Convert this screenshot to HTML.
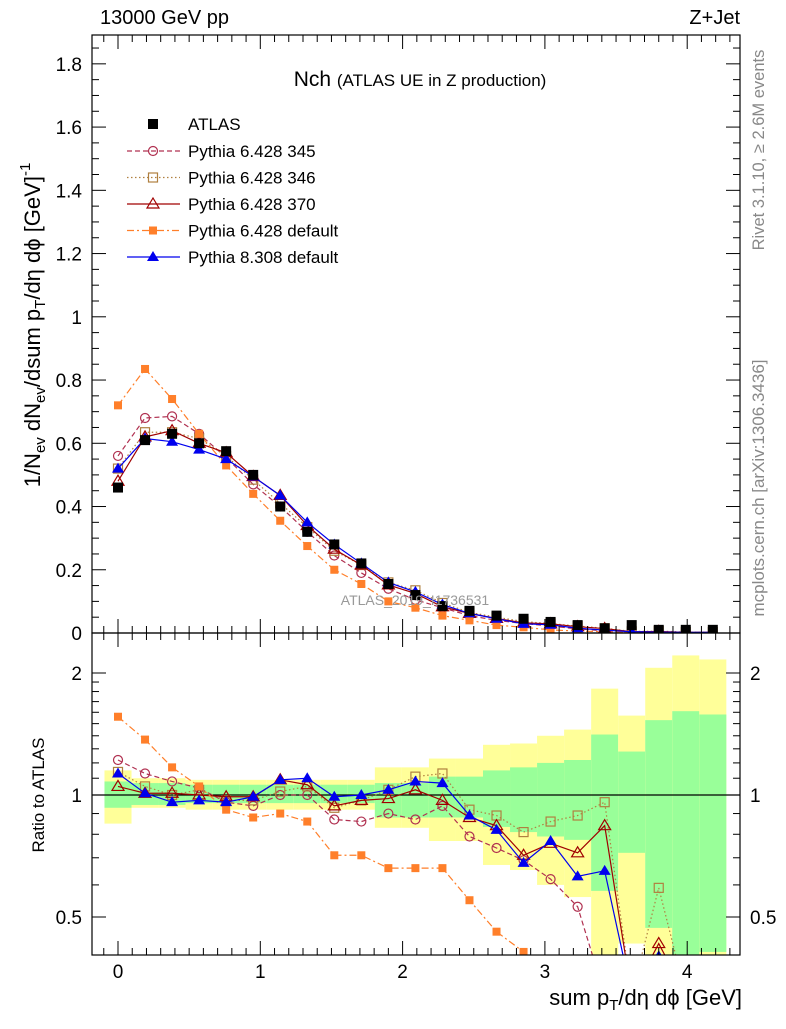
<!DOCTYPE html>
<html><head><meta charset="utf-8"><style>
body{margin:0;background:#fff;}
svg text{font-family:"Liberation Sans",sans-serif;}
</style></head><body>
<svg id="c" width="786" height="1024" xmlns="http://www.w3.org/2000/svg"></svg>
<script>
const xs=[0,0.19,0.38,0.57,0.76,0.95,1.14,1.33,1.52,1.71,1.9,2.09,2.28,2.47,2.66,2.85,3.04,3.23,3.42,3.61,3.8,3.99,4.18];
const atlas=[0.46,0.61,0.63,0.60,0.575,0.50,0.40,0.32,0.28,0.22,0.155,0.12,0.085,0.07,0.055,0.045,0.035,0.025,0.015,0.025,0.01,0.01,0.01];
const m345=[0.56,0.68,0.685,0.63,0.555,0.47,0.40,0.32,0.245,0.19,0.14,0.105,0.08,0.055,0.04,0.03,0.022,0.013,0.007,0.003,0.003,0.002,0.002];
const m346=[0.52,0.635,0.635,0.615,0.56,0.485,0.41,0.335,0.26,0.215,0.16,0.135,0.095,0.065,0.05,0.036,0.03,0.022,0.015,0.005,0.006,0.003,0.003];
const m370=[0.48,0.62,0.64,0.60,0.57,0.495,0.435,0.34,0.265,0.215,0.152,0.125,0.083,0.062,0.046,0.032,0.029,0.02,0.014,0.004,0.005,0.002,0.002];
const m6d=[0.72,0.835,0.74,0.63,0.53,0.44,0.355,0.275,0.2,0.155,0.1,0.08,0.055,0.04,0.025,0.018,0.01,0.006,0.004,0.002,0.001,0.001,0.001];
const m8=[0.52,0.615,0.605,0.58,0.55,0.495,0.435,0.35,0.28,0.22,0.16,0.13,0.09,0.062,0.045,0.029,0.026,0.015,0.009,0.004,0.003,0.002,0.002];
const r345=[1.22,1.13,1.08,1.04,0.96,0.94,1.0,1.0,0.87,0.86,0.9,0.87,0.94,0.79,0.74,0.69,0.62,0.53,0.3,0.2,0.2,0.2,0.2];
const r346=[1.14,1.05,1.0,1.03,0.97,0.97,1.02,1.05,0.93,0.97,1.03,1.11,1.13,0.92,0.89,0.81,0.86,0.89,0.96,0.2,0.59,0.2,0.2];
const r370=[1.05,1.01,1.01,1.0,0.99,0.99,1.09,1.06,0.94,0.97,0.98,1.03,0.97,0.88,0.84,0.71,0.76,0.72,0.84,0.2,0.43,0.2,0.2];
const r6d=[1.56,1.37,1.17,1.05,0.92,0.88,0.9,0.86,0.71,0.71,0.66,0.66,0.66,0.55,0.46,0.41,0.2,0.2,0.2,0.2,0.2,0.2,0.2];
const r8=[1.13,1.01,0.96,0.97,0.96,0.99,1.09,1.1,0.99,1.0,1.03,1.08,1.07,0.89,0.82,0.68,0.77,0.63,0.65,0.2,0.4,0.2,0.2];
const yUp=[1.15,1.1,1.1,1.09,1.09,1.09,1.09,1.09,1.09,1.09,1.17,1.17,1.23,1.23,1.33,1.34,1.40,1.45,1.83,1.57,2.06,2.21,2.16];
const gUp=[1.08,1.07,1.07,1.06,1.06,1.06,1.06,1.06,1.06,1.06,1.07,1.07,1.11,1.11,1.15,1.17,1.2,1.22,1.41,1.28,1.53,1.61,1.58];
const gDn=[0.93,0.945,0.945,0.955,0.955,0.955,0.955,0.955,0.955,0.955,0.88,0.88,0.88,0.88,0.834,0.81,0.79,0.775,0.58,0.72,0.47,0.3,0.41];
const yDn=[0.85,0.93,0.93,0.92,0.92,0.92,0.92,0.92,0.92,0.92,0.83,0.83,0.77,0.77,0.672,0.653,0.6,0.56,0.3,0.43,0.3,0.3,0.3];
const mainTicks=[0,0.2,0.4,0.6,0.8,1,1.2,1.4,1.6,1.8];
const xTicks=[0,1,2,3,4];
const ratioTicks=[0.5,1,2];

const NS="http://www.w3.org/2000/svg";
const svg=document.getElementById('c');
function el(t,a,p){const e=document.createElementNS(NS,t);for(const k in a)e.setAttribute(k,a[k]);(p||svg).appendChild(e);return e;}
const L=92,R=740,T=35,MB=633,RB=955;
const X=v=>118+v*142.3;
const Y=v=>633-v*316.2;
const YR=v=>Math.min(Math.max(795-122*Math.log2(v),MB),RB+40);
const clipDefs=el('defs',{});
const cp=el('clipPath',{id:'cm'},clipDefs);el('rect',{x:L,y:T,width:R-L,height:MB-T},cp);
const cr=el('clipPath',{id:'cr'},clipDefs);el('rect',{x:L,y:MB,width:R-L,height:RB-MB},cr);

const bandG=el('g',{'clip-path':'url(#cr)'});


xs.forEach((x,i)=>{
  const x0=X(x-0.095),w=X(0.19)-X(0);
  const yb=el('rect',{x:x0,y:YR(yUp[i]),width:w,height:YR(yDn[i])-YR(yUp[i]),fill:'#ffff99'},bandG);
  
  
  const gb=el('rect',{x:x0,y:YR(gUp[i]),width:w,height:YR(gDn[i])-YR(gUp[i]),fill:'#99ff99'},bandG);
  
  
});
el('line',{x1:L,x2:R,y1:YR(1),y2:YR(1),stroke:'#000','stroke-width':1.2});

function marker(g,type,cx,cy,col){
  let m;
  if(type==='sq') m=el('rect',{x:cx-5,y:cy-5,width:10,height:10,fill:'#000'},g);
  else if(type==='circ') m=el('circle',{cx,cy,r:4.5,fill:'none',stroke:col,'stroke-width':1.2},g);
  else if(type==='osq') m=el('rect',{x:cx-4.5,y:cy-4.5,width:9,height:9,fill:'none',stroke:col,'stroke-width':1.2},g);
  else if(type==='otri') m=el('path',{d:`M${cx},${cy-6}L${cx+6},${cy+4}L${cx-6},${cy+4}Z`,fill:'none',stroke:col,'stroke-width':1.2},g);
  else if(type==='fsq') m=el('rect',{x:cx-4,y:cy-4,width:8,height:8,fill:col},g);
  else m=el('path',{d:`M${cx},${cy-6}L${cx+6},${cy+4}L${cx-6},${cy+4}Z`,fill:col},g);
  return m;
}
const series=[
 {n:'pythia-6428-345',main:m345,ratio:r345,col:'#b03050',t:'circ',dash:'5,3',lab:'Pythia 6.428 345'},
 {n:'pythia-6428-346',main:m346,ratio:r346,col:'#b08040',t:'osq',dash:'1.5,2.5',lab:'Pythia 6.428 346'},
 {n:'pythia-6428-370',main:m370,ratio:r370,col:'#a00000',t:'otri',dash:'',lab:'Pythia 6.428 370'},
 {n:'pythia-6428-default',main:m6d,ratio:r6d,col:'#ff7f2a',t:'fsq',dash:'7,3,2,3',lab:'Pythia 6.428 default'},
 {n:'pythia-8308-default',main:m8,ratio:r8,col:'#0000ee',t:'ftri',dash:'',lab:'Pythia 8.308 default'}
];
series.forEach(s=>{
  const g=el('g',{'clip-path':'url(#cm)'});
  
  
  el('polyline',{points:xs.map((x,i)=>X(x)+','+Y(s.main[i])).join(' '),fill:'none',stroke:s.col,'stroke-width':1.2,'stroke-dasharray':s.dash},g);
  xs.forEach((x,i)=>marker(g,s.t,X(x),Y(s.main[i]),s.col));
  const g2=el('g',{'clip-path':'url(#cr)'});
  
  
  el('polyline',{points:xs.map((x,i)=>X(x)+','+YR(s.ratio[i])).join(' '),fill:'none',stroke:s.col,'stroke-width':1.2,'stroke-dasharray':s.dash},g2);
  xs.forEach((x,i)=>marker(g2,s.t,X(x),YR(s.ratio[i]),s.col));
});
const ga=el('g',{'clip-path':'url(#cm)'});


xs.forEach((x,i)=>marker(ga,'sq',X(x),Y(atlas[i]),'#000'));

el('rect',{x:L,y:T,width:R-L,height:MB-T,fill:'none',stroke:'#000','stroke-width':1.2});
el('rect',{x:L,y:MB,width:R-L,height:RB-MB,fill:'none',stroke:'#000','stroke-width':1.2});
for(let v=0;v<=1.86;v+=0.05){const y=Y(v);const big=Math.abs(v*5-Math.round(v*5))<1e-6;const l=big?14:7;
 el('line',{x1:L,x2:L+l,y1:y,y2:y,stroke:'#000'});el('line',{x1:R,x2:R-l,y1:y,y2:y,stroke:'#000'});}
mainTicks.forEach(v=>{const t=el('text',{x:82,y:Y(v)+7,'text-anchor':'end','font-size':19});t.textContent=String(v);
 });
for(let v=-0.1;v<=4.4;v+=0.1){const x=X(Math.round(v*10)/10);if(x<L||x>R)continue;const big=Math.abs(v-Math.round(v))<1e-6;const l=big?14:7;
 [[T,1],[MB,-1],[MB,1],[RB,-1]].forEach(([y0,d])=>el('line',{x1:x,x2:x,y1:y0,y2:y0+d*l,stroke:'#000'}));}
xTicks.forEach(v=>{const t=el('text',{x:X(v),y:978,'text-anchor':'middle','font-size':19});t.textContent=String(v);
 });
[0.5,0.6,0.7,0.8,0.9,1,1.1,1.2,1.3,1.4,1.5,1.6,1.7,1.8,1.9,2].forEach(v=>{const y=YR(v);const big=ratioTicks.includes(v);const l=big?14:7;
 el('line',{x1:L,x2:L+l,y1:y,y2:y,stroke:'#000'});el('line',{x1:R,x2:R-l,y1:y,y2:y,stroke:'#000'});});
ratioTicks.forEach(v=>{[[82,'end'],[750,'start']].forEach(([x,a])=>{const t=el('text',{x,y:YR(v)+7,'text-anchor':a,'font-size':19});t.textContent=String(v);
 });});
const lg=el('g',{});


marker(lg,'sq',153,124,'#000');
let t=el('text',{x:188,y:130,'font-size':17},lg);t.textContent='ATLAS';
series.forEach((s,i)=>{const y=151+i*26.5;
 el('line',{x1:127,x2:180,y1:y,y2:y,stroke:s.col,'stroke-width':1.2,'stroke-dasharray':s.dash},lg);
 marker(lg,s.t,153,y,s.col);
 const tt=el('text',{x:188,y:y+6,'font-size':17},lg);tt.textContent=s.lab;
 });
</script>
<svg width="786" height="1024" style="position:absolute;left:0;top:0" xmlns="http://www.w3.org/2000/svg">
<text x="100" y="24" font-size="20" font-family="Liberation Sans">13000 GeV pp</text>
<text x="740" y="24" font-size="20" text-anchor="end" font-family="Liberation Sans">Z+Jet</text>
<text x="420" y="86" font-size="21" text-anchor="middle" font-family="Liberation Sans">Nch <tspan font-size="17">(ATLAS UE in Z production)</tspan></text>
<text x="415" y="605" font-size="14" fill="#999" text-anchor="middle" font-family="Liberation Sans">ATLAS_2019_I1736531</text>
<text transform="translate(764,150) rotate(-90)" font-size="16.5" fill="#888" text-anchor="middle" font-family="Liberation Sans">Rivet 3.1.10, ≥ 2.6M events</text>
<text transform="translate(764,488) rotate(-90)" font-size="17" fill="#888" text-anchor="middle" font-family="Liberation Sans">mcplots.cern.ch [arXiv:1306.3436]</text>
<text transform="translate(40,325) rotate(-90)" font-size="22" text-anchor="middle" font-family="Liberation Sans">1/N<tspan font-size="15" dy="5">ev</tspan><tspan dy="-5"> dN</tspan><tspan font-size="15" dy="5">ev</tspan><tspan dy="-5">/dsum p</tspan><tspan font-size="15" dy="5">T</tspan><tspan dy="-5">/dη dϕ  [GeV]</tspan><tspan font-size="15" dy="-10">-1</tspan></text>
<text transform="translate(44,795) rotate(-90)" font-size="17" text-anchor="middle" font-family="Liberation Sans">Ratio to ATLAS</text>
<text x="742" y="1005" font-size="22" text-anchor="end" font-family="Liberation Sans">sum p<tspan font-size="15" dy="5">T</tspan><tspan dy="-5">/dη dϕ [GeV]</tspan></text>
</svg>
</body></html>
